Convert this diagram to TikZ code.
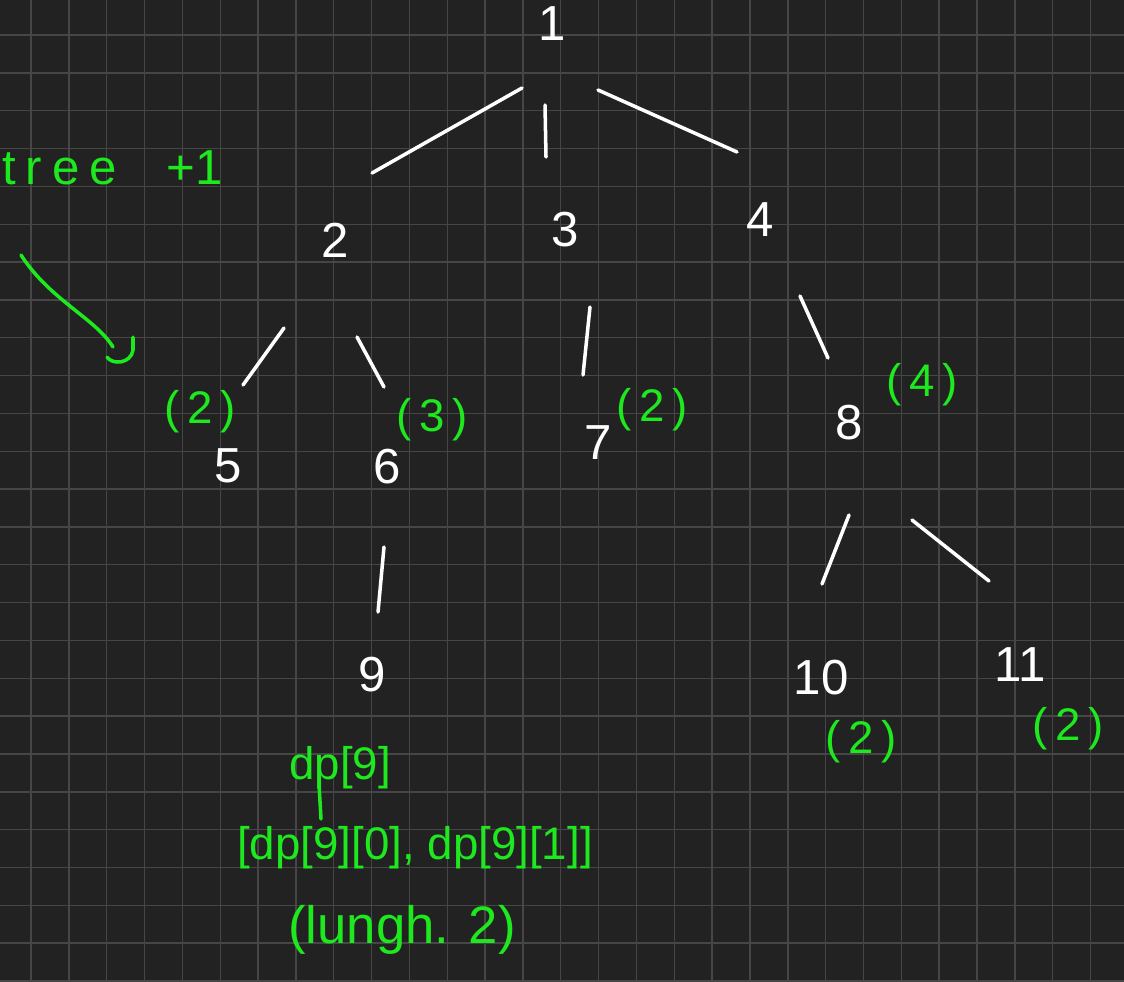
\documentclass[tikz,border=0pt]{standalone}
\usepackage{fontspec}
\setmainfont{Liberation Sans}
\usetikzlibrary{calc}
\definecolor{fondo}{HTML}{222222}
\definecolor{rejilla}{HTML}{464646}
\definecolor{verde}{RGB}{30,232,30}

\begin{document}
\begin{tikzpicture}[
  x=0.02cm, y=-0.02cm,
  num/.style={text=white, inner sep=0pt, font=\fontsize{28}{30}\selectfont},
  nota/.style={text=verde, inner sep=0pt, font=\fontsize{26}{28}\selectfont},
  edge/.style={draw=white, line width=2pt, line cap=round},
  trazo/.style={draw=verde, line width=2pt, line cap=round}
]
  \useasboundingbox (0,0) rectangle (1124,981);
  \fill[fondo] (0,0) rectangle (1124,981);

  % Rejilla
  \foreach \i in {0,...,28}
    \draw[rejilla, line width=0.8pt] (31+37.84*\i,0) -- (31+37.84*\i,981);
  \foreach \j in {0,...,25}
    \draw[rejilla, line width=0.8pt] (0,35+37.84*\j) -- (1124,35+37.84*\j);

  % Vertices
  \node[num] (n1) at (552,24) {1};     % raiz
  \node[num] (n2) at (335,240) {2};
  \node[num] (n3) at (565,230) {3};
  \node[num] (n4) at (760,220) {4};
  \node[num] (n5) at (228,466) {5};
  \node[num] (n6) at (387,467) {6};
  \node[num] (n7) at (598,443) {7};
  \node[num] (n8) at (849,423) {8};
  \node[num] (n9) at (372,675) {9};
  \node[num] (n10) at (821,678) {10};
  \node[num] (n11) at (1020,665) {11};

  % Aristas
  \draw[edge] ($(n1)+(-30,64)$) -- ($(n2)+(37,-67)$);
  \draw[edge] ($(n1)+(-7,81)$) -- ($(n3)+(-19,-73)$);
  \draw[edge] ($(n1)+(46,66)$) -- ($(n4)+(-23,-68)$);
  \draw[edge] ($(n2)+(-51,88)$) -- ($(n5)+(15,-81)$);
  \draw[edge] ($(n2)+(22,97)$) -- ($(n6)+(-3,-80)$);
  \draw[edge] ($(n3)+(25,77)$) -- ($(n7)+(-15,-68)$);
  \draw[edge] ($(n4)+(40,76)$) -- ($(n8)+(-21,-65)$);
  \draw[edge] ($(n6)+(-3,80)$) -- ($(n9)+(6,-63)$);
  \draw[edge] ($(n8)+(0,92)$) -- ($(n10)+(1,-94)$);
  \draw[edge] ($(n8)+(63,97)$) -- ($(n11)+(-31,-84)$);

  % Tamanos de subarbol
  \node[nota] (c5) at (200,412) {(\,2\,)};
  \node[nota] (c6) at (432,420) {(\,3\,)};
  \node[nota] (c7) at (652,410) {(\,2\,)};
  \node[nota] (c8) at (922,385) {(\,4\,)};
  \node[nota] (c10) at (861,742) {(\,2\,)};
  \node[nota] (c11) at (1068,729) {(\,2\,)};

  % Nota arriba a la izquierda
  \node[nota, font=\fontsize{28}{30}\selectfont, anchor=base west] (sub) at (2,184)
    {{\addfontfeatures{LetterSpace=20}tree}\hspace{1.0cm}+1};
  \coordinate (f1) at (21,255);
  \coordinate (f2) at (113,347);
  \draw[trazo] (f1) .. controls (50,300) and (95,318) .. (f2);
  \draw[trazo] (107,357) .. controls (112,365) and (131,364) .. (133,350) -- (133,337);

  % dp del nodo 9
  \node[nota] (dp9) at (340,768) {dp[9]};
  \node[nota] (dplist) at (415,848) {[dp[9][0], dp[9][1]]};
  \node[nota, font=\fontsize{30}{32}\selectfont] (lungh) at (402,930) {(lungh. 2)};
  \draw[trazo] ($(dp9)+(-21,16)$) -- ($(dplist)+(-94,-29)$);
\end{tikzpicture}
\end{document}
